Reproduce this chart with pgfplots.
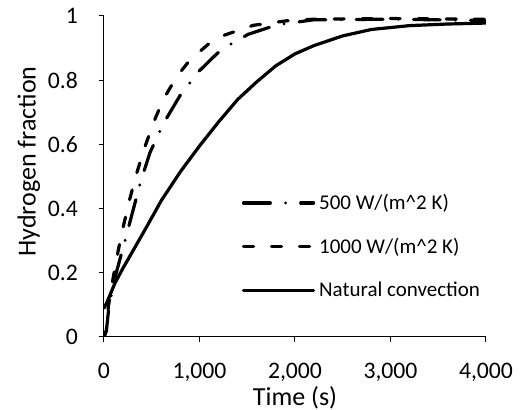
\documentclass[border=0pt]{standalone}
\usepackage{fontspec}
\setmainfont{Carlito}
\usepackage{pgfplots}
\pgfplotsset{compat=1.18}

% dash patterns
\tikzset{
  dashdotlong/.style={dash pattern=on 13.4pt off 7.6pt on 0pt off 7.6pt},
  shortdash/.style={dash pattern=on 5pt off 9pt},
}

\begin{document}
\begin{tikzpicture}
\begin{axis}[
    scale only axis,
    width=191pt, height=160.5pt,
    xmin=0, xmax=4000,
    ymin=0, ymax=1,
    axis lines=left,
    axis line style={line width=0.5pt, -},
    xtick={0,1000,2000,3000,4000},
    ytick={0,0.2,0.4,0.6,0.8,1},
    yticklabels={0,0.2,0.4,0.6,0.8,1},
    tick align=outside,
    major tick length=2.5pt,
    tick style={line width=0.5pt, black},
    /pgf/number format/assume math mode=true,
    /pgf/number format/1000 sep={,},
    scaled x ticks=false,
    ticklabel style={font=\fontsize{11.85}{13}\selectfont},
    yticklabel style={xshift=-7pt},
    xticklabel style={yshift=-7pt},
    label style={font=\fontsize{13}{15}\selectfont},
    xlabel={Time (s)},
    ylabel={Hydrogen fraction},
    xlabel shift=-4.5pt,
    ylabel shift=-3pt,
    ylabel style={at={(ticklabel cs:0.547)}},
    legend style={
        draw=none, fill=none,
        font=\fontsize{10.5}{12}\selectfont,
        at={(rel axis cs:0.36,0.46)}, anchor=north west,
        row sep=8.8pt,
        inner sep=0pt,
    },
    legend cell align=left,
    legend image code/.code={\draw[#1] (0pt,0pt) -- (35pt,0pt);},
    every axis plot/.append style={line width=1.6pt, line cap=round, line join=round, black},
]

% 500 W/(m^2 K)
\addplot[dashdotlong] coordinates {
    (0,0) (25,0.02) (50,0.09) (110,0.18) (165,0.24) (220,0.30)
    (300,0.39) (384,0.484) (482,0.575) (628,0.668) (796,0.752)
    (988,0.826) (1180,0.882) (1285,0.905) (1510,0.943) (1808,0.972)
    (2190,0.988) (3000,0.99) (4000,0.986)
};
\addlegendentry{500 W/(m\textasciicircum 2 K)}

% 1000 W/(m^2 K)
\addplot[shortdash] coordinates {
    (0,0) (25,0.02) (45,0.094) (98,0.188) (150,0.271) (202,0.344)
    (270,0.43) (342,0.51) (429,0.593) (516,0.666) (621,0.74)
    (761,0.811) (900,0.863) (1092,0.912) (1267,0.941) (1564,0.971)
    (1913,0.985) (2200,0.99) (3000,0.992) (4000,0.99)
};
\addlegendentry{1000 W/(m\textasciicircum 2 K)}

% natural convection
\addplot[solid] coordinates {
    (0,0.09) (28,0.106) (115,0.168) (200,0.215) (325,0.28) (450,0.345)
    (600,0.425) (800,0.515) (1000,0.595) (1200,0.67) (1400,0.74)
    (1600,0.795) (1800,0.845) (2000,0.882) (2200,0.908) (2500,0.938)
    (2800,0.958) (3200,0.97) (3600,0.975) (4000,0.978)
};
\addlegendentry{Natural convection}

\end{axis}
\pgfresetboundingbox
\path ([xshift=-52pt,yshift=-36.5pt]current axis.south west)
    rectangle ([xshift=17pt,yshift=8pt]current axis.north east);
\end{tikzpicture}
\end{document}
